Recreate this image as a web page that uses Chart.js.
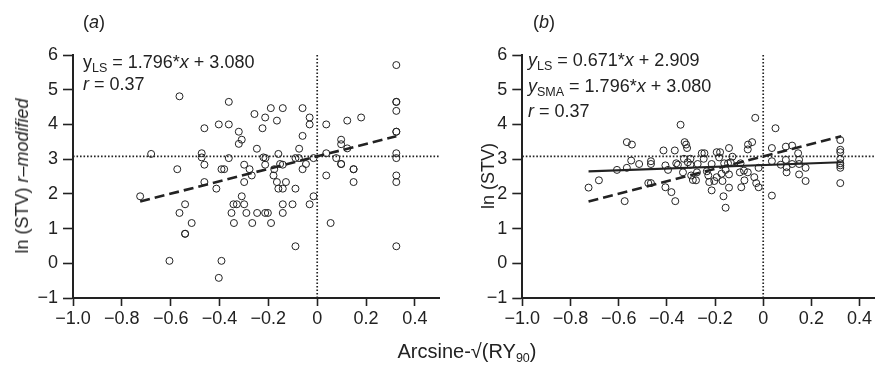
<!DOCTYPE html>
<html><head><meta charset="utf-8">
<script src="https://cdn.jsdelivr.net/npm/chart.js@4.4.1/dist/chart.umd.min.js"></script>
<style>
body{margin:0;background:#fff;width:879px;height:366px;overflow:hidden;position:relative;font-family:"Liberation Sans",Arial,sans-serif;color:#222}
canvas{position:absolute;top:0}
.t{position:absolute;font-size:18px;line-height:18px;white-space:nowrap}
.t sub{font-size:12.5px;line-height:0;vertical-align:baseline;position:relative;top:4px}
.rot{position:absolute;transform:translate(-50%,-50%) rotate(-90deg);white-space:nowrap;font-size:18px;line-height:18px}
</style></head><body>
<canvas id="ca" width="450" height="366" style="left:0"></canvas>
<canvas id="cb" width="429" height="366" style="left:450px"></canvas>

<div class="t" style="left:83px;top:13px">(<i>a</i>)</div>
<div class="t" style="left:533px;top:13px">(<i>b</i>)</div>
<div class="t" style="left:83px;top:53px">y<sub>LS</sub> = 1.796*<i>x</i> + 3.080</div>
<div class="t" style="left:83px;top:75px"><i>r</i> = 0.37</div>
<div class="t" style="left:528px;top:51px"><i>y</i><sub>LS</sub> = 0.671*<i>x</i> + 2.909</div>
<div class="t" style="left:528px;top:77px"><i>y</i><sub>SMA</sub> = 1.796*<i>x</i> + 3.080</div>
<div class="t" style="left:528px;top:102px"><i>r</i> = 0.37</div>
<div class="rot" style="left:22px;top:176px">ln (STV) <i>r–modified</i></div>
<div class="rot" style="left:488px;top:176px">ln (STV)</div>
<div class="t" style="left:467px;top:341px;transform:translateX(-50%);font-size:20px;line-height:20px">Arcsine-√(RY<sub>90</sub>)</div>

<script>
// ---- tick values ----
const xTickValues = [-1.0, -0.8, -0.6, -0.4, -0.2, 0, 0.2, 0.4];
const yTickValues = [-1, 0, 1, 2, 3, 4, 5, 6];

// ---- reference lines ----
const refLineY = 3.08;
const refLineX = 0;

// ---- panel (a) data ----
const aX = [-0.564,-0.362,-0.257,-0.190,-0.213,-0.165,-0.224,-0.462,-0.403,-0.362,-0.321,-0.309,-0.321,-0.247,-0.680,-0.473,-0.473,-0.462,-0.362,-0.220,-0.212,-0.159,-0.299,-0.213,-0.573,-0.392,-0.381,-0.277,-0.176,-0.268,-0.179,-0.462,-0.299,-0.165,-0.413,-0.159,-0.725,-0.309,-0.541,-0.343,-0.329,-0.299,-0.564,-0.351,-0.290,-0.246,-0.213,-0.202,-0.514,-0.341,-0.266,-0.189,-0.541,-0.541,-0.605,-0.392,-0.403,
  0.324,0.324,0.324,0.324,0.324,0.324,0.324,0.324,0.324,0.324,0.324,
  -0.141,-0.060,-0.031,-0.031,0.037,0.123,0.180,-0.060,-0.074,0.098,0.098,0.123,0.037,-0.089,-0.075,-0.015,0.078,-0.152,-0.141,-0.046,0.098,0.098,0.149,0.149,-0.060,0.037,-0.128,-0.141,-0.089,0.149,-0.015,-0.141,-0.101,-0.031,-0.141,0.055,-0.089];
const aY = [4.81,4.65,4.30,4.47,4.20,4.11,3.89,3.89,4.00,4.00,3.79,3.56,3.44,3.30,3.15,3.17,3.05,2.84,3.03,3.05,3.03,3.15,2.84,2.84,2.71,2.71,2.71,2.71,2.71,2.53,2.53,2.34,2.34,2.34,2.15,2.15,1.93,1.93,1.70,1.70,1.70,1.70,1.45,1.45,1.45,1.45,1.45,1.45,1.16,1.16,1.16,1.16,0.85,0.85,0.07,0.07,-0.42,
  5.71,4.65,4.65,4.39,3.79,3.79,3.17,3.03,2.53,2.34,0.49,
  4.47,4.47,4.20,4.00,4.00,4.11,4.20,3.67,3.30,3.56,3.43,3.31,3.17,3.03,3.03,3.03,3.03,2.86,2.84,2.86,2.86,2.86,2.71,2.71,2.71,2.53,2.34,2.15,2.15,2.34,1.93,1.70,1.70,1.70,1.45,1.16,0.49];
const aSmaX = [-0.725, 0.324];
const aSmaY = [1.78, 3.66];

// ---- panel (b) data ----
const bX = [-0.033,0.051,-0.343,-0.566,-0.545,-0.326,-0.320,-0.316,-0.063,-0.046,-0.064,-0.142,0.036,0.094,0.120,0.145,
  0.320,0.320,0.320,0.320,0.320,0.320,0.320,0.320,
  -0.414,-0.367,-0.466,-0.466,-0.548,-0.515,-0.566,-0.607,-0.682,-0.725,-0.575,-0.477,-0.466,-0.406,-0.381,-0.365,-0.406,-0.395,-0.361,-0.354,-0.329,-0.313,-0.302,-0.333,-0.299,-0.292,-0.279,-0.302,
  -0.255,-0.244,-0.247,-0.272,-0.275,-0.234,-0.228,-0.214,-0.224,-0.214,-0.203,-0.193,-0.193,-0.179,-0.183,-0.162,-0.146,-0.135,-0.128,-0.173,-0.156,-0.142,-0.169,-0.142,-0.165,-0.156,
  -0.094,-0.097,-0.080,-0.064,-0.078,-0.091,-0.037,-0.029,-0.019,-0.019,0.036,0.036,0.073,0.094,0.097,0.097,0.120,0.149,0.149,0.176,0.149,0.176];
const bY = [4.19,3.89,3.99,3.49,3.42,3.49,3.42,3.32,3.42,3.49,3.28,3.32,3.32,3.36,3.39,3.17,
  3.55,3.27,3.20,3.01,2.88,2.82,2.75,2.31,
  3.25,3.25,2.94,2.86,2.96,2.86,2.75,2.69,2.39,2.18,1.79,2.31,2.31,2.19,2.05,1.79,2.82,2.69,2.88,2.84,3.01,2.91,2.84,2.62,2.53,2.40,2.39,3.01,
  3.17,3.17,3.01,2.86,2.62,2.65,2.53,2.86,2.34,2.10,2.37,2.48,3.20,3.20,3.05,2.88,2.88,2.91,3.07,2.58,2.69,2.56,2.37,2.18,1.93,1.60,
  2.88,2.62,2.67,2.62,2.39,2.19,2.48,2.31,2.19,2.75,1.95,2.94,2.84,2.98,2.77,2.62,2.86,2.98,2.86,2.75,2.56,2.37];
const bSmaX = [-0.725, 0.324];
const bSmaY = [1.78, 3.66];
const bLsX = [-0.725, 0.324];
const bLsY = [2.65, 2.91];

const INK = '#222';
const FONT = '"Liberation Sans", Arial, sans-serif';
const zip = (xs, ys) => xs.map((x, i) => ({x, y: ys[i]}));
const fmtX = v => v === 0 ? '0' : (v < 0 ? '\u2212' : '') + Math.abs(v).toFixed(1);
const fmtY = v => (v < 0 ? '\u2212' : '') + Math.abs(v);

function makePanel(id, xs, ys, xMax, padRight, yAxisWidth, fitLines) {
  const datasets = [
    {data: zip(xs, ys), showLine: false, pointRadius: 3.5, pointHoverRadius: 3.5,
     borderColor: INK, borderWidth: 1, backgroundColor: 'rgba(0,0,0,0)', order: 1},
    {data: [{x: -1, y: refLineY}, {x: xMax, y: refLineY}], showLine: true, pointRadius: 0,
     borderColor: INK, borderWidth: 1.7, borderDash: [1.6, 1.9], order: 2},
    {data: [{x: refLineX, y: -1}, {x: refLineX, y: 6}], showLine: true, pointRadius: 0,
     borderColor: INK, borderWidth: 1.7, borderDash: [1.6, 1.9], order: 2}
  ];
  fitLines.forEach(l => datasets.push({data: zip(l.x, l.y), showLine: true, pointRadius: 0,
    borderColor: INK, borderWidth: l.w, borderDash: l.dash, order: 0}));
  return new Chart(document.getElementById(id), {
    type: 'scatter',
    data: {datasets},
    options: {
      responsive: false, animation: false, devicePixelRatio: 1,
      layout: {padding: {top: 55, right: padRight, left: 0, bottom: 0}},
      plugins: {legend: {display: false}, tooltip: {enabled: false}},
      elements: {line: {tension: 0}},
      clip: false,
      scales: {
        x: {type: 'linear', min: -1, max: xMax,
          afterBuildTicks: s => { s.ticks = xTickValues.map(v => ({value: v})); },
          afterFit: s => { s.height = 68; s.paddingLeft = 0; s.paddingRight = 0; },
          ticks: {callback: fmtX, color: INK, font: {family: FONT, size: 18}, padding: 2, maxRotation: 0, autoSkip: false},
          grid: {drawOnChartArea: false, drawTicks: true, tickLength: 8, tickColor: INK, tickWidth: 1.6},
          border: {display: true, color: INK, width: 2}},
        y: {type: 'linear', min: -1, max: 6,
          afterBuildTicks: s => { s.ticks = yTickValues.map(v => ({value: v})); },
          afterFit: s => { s.width = yAxisWidth; s.paddingTop = 0; s.paddingBottom = 0; },
          ticks: {callback: fmtY, color: INK, font: {family: FONT, size: 18}, padding: 5, autoSkip: false},
          grid: {drawOnChartArea: false, drawTicks: true, tickLength: 10, tickColor: INK, tickWidth: 1.6},
          border: {display: true, color: INK, width: 2}}
      }
    }
  });
}

makePanel('ca', aX, aY, 0.5, 10.7, 73,
  [{x: aSmaX, y: aSmaY, w: 2.6, dash: [10, 5]}]);
makePanel('cb', bX, bY, 0.462, 0, 72.3,
  [{x: bSmaX, y: bSmaY, w: 2.6, dash: [10, 5]},
   {x: bLsX, y: bLsY, w: 2.2, dash: []}]);
</script>
</body></html>
